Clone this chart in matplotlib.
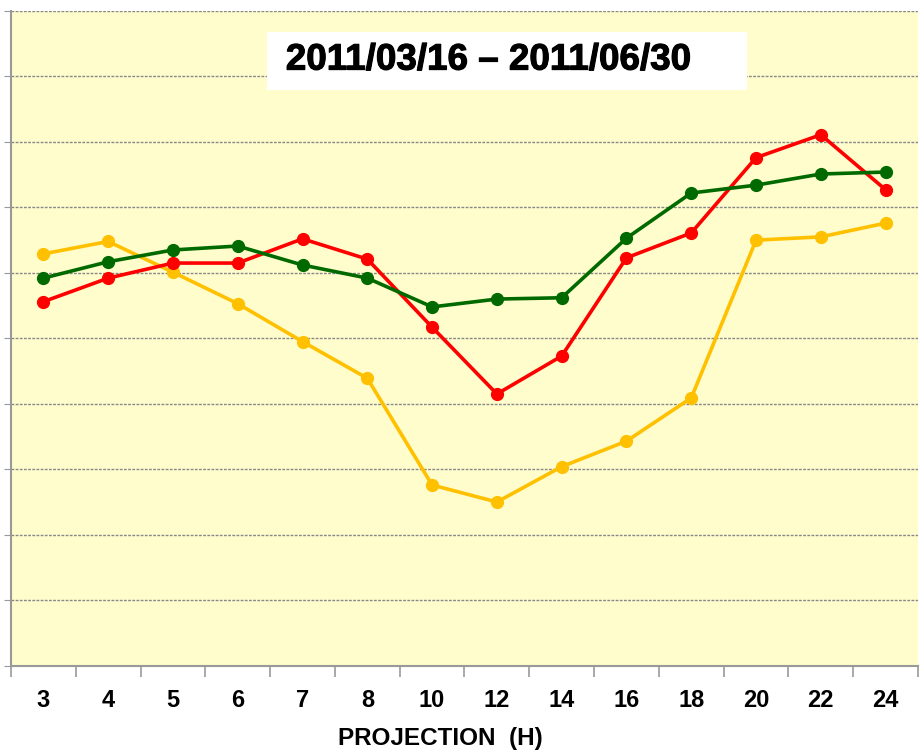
import matplotlib.pyplot as plt
import matplotlib.patheffects as pe
from matplotlib.patches import Rectangle
from matplotlib.ticker import FixedLocator

plt.rcParams['font.family'] = ['Liberation Sans', 'DejaVu Sans']

# Données
projection = ['3', '4', '5', '6', '7', '8', '10', '12', '14', '16', '18', '20', '22', '24']
serie_verte = [59.2, 61.7, 63.5, 64.1, 61.2, 59.2, 54.8, 56.0, 56.2, 65.3, 72.2, 73.4, 75.1, 75.4]
serie_rouge = [55.6, 59.2, 61.5, 61.5, 65.2, 62.1, 51.7, 41.5, 47.3, 62.3, 66.1, 77.6, 81.1, 72.7]
serie_jaune = [62.9, 64.8, 60.1, 55.3, 49.5, 43.9, 27.6, 25.0, 30.4, 34.3, 40.9, 65.0, 65.5, 67.6]

fig = plt.figure(figsize=(9.23, 7.56), dpi=100)
ax = fig.add_axes([11 / 923, 1 - 665.7 / 756, 907 / 923, 654.7 / 756])
ax.set_facecolor('#FFFDCC')

x = range(len(projection))
ax.plot(x, serie_jaune, marker='o', color='#FFC000', linewidth=2.6, markersize=8.5, zorder=3)
ax.plot(x, serie_rouge, marker='o', color='#FF0000', linewidth=2.6, markersize=8.5, zorder=4)
ax.plot(x, serie_verte, marker='o', color='#006A00', linewidth=2.6, markersize=8.5, zorder=5)

ax.set_xlim(-0.5, len(projection) - 0.5)
ax.set_ylim(0, 100)

# Grille horizontale
ax.set_yticks(range(0, 101, 10))
ax.set_yticklabels([])
ax.yaxis.grid(True, linestyle=(0, (2, 1)), color='#888888', linewidth=1)
ax.tick_params(axis='y', direction='out', length=5, color='#999999')

# Graduations de l'axe des x entre les catégories
ax.set_xticks(list(x))
ax.set_xticklabels(projection, fontsize=17, fontweight='bold')
ax.tick_params(axis='x', which='major', length=0, pad=17)
ax.xaxis.set_minor_locator(FixedLocator([i - 0.5 for i in range(len(projection) + 1)]))
ax.tick_params(axis='x', which='minor', direction='out', length=8, color='#999999', width=1.2)
ax.set_xlabel('PROJECTION  (H)', fontsize=17.5, fontweight='bold')
ax.xaxis.set_label_coords(0.473, -0.094)

for s in ['top', 'right']:
    ax.spines[s].set_visible(False)
for s in ['left', 'bottom']:
    ax.spines[s].set_color('#999999')
    ax.spines[s].set_linewidth(1.5)

# Cadre du titre
ax.add_patch(Rectangle((0.2822, 0.8793), 0.529, 0.0886, transform=ax.transAxes,
                       facecolor='white', edgecolor='none', zorder=6))
ax.text(0.303, 0.925, '2011/03/16 \u2013 2011/06/30', transform=ax.transAxes,
        fontsize=26.5, fontweight='bold', va='center', ha='left', zorder=7,
        path_effects=[pe.withStroke(linewidth=0.8, foreground='black')])

plt.savefig('out.png', dpi=100)
